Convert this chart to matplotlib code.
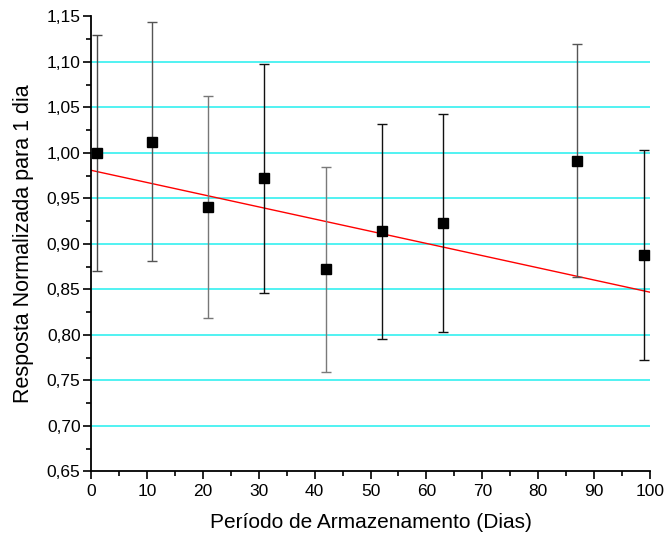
import matplotlib
matplotlib.use("Agg")
import matplotlib.pyplot as plt
from matplotlib.ticker import MultipleLocator, FuncFormatter
import numpy as np

plt.rcParams['font.family'] = ['Liberation Sans', 'DejaVu Sans']

# Data
dias = [1, 11, 21, 31, 42, 52, 63, 87, 99]
resposta = [1.000, 1.012, 0.941, 0.972, 0.872, 0.914, 0.923, 0.991, 0.888]
erro_sup = [1.130, 1.144, 1.063, 1.098, 0.985, 1.032, 1.043, 1.120, 1.003]
erro_inf = [0.870, 0.881, 0.819, 0.846, 0.759, 0.796, 0.803, 0.864, 0.773]
cores_barra = ['#4a4a4a', '#555555', '#777777', '#111111', '#7a7a7a',
               '#111111', '#111111', '#555555', '#111111']

# Linear fit drawn in the chart (intercept, slope)
ajuste_a = 0.981
ajuste_b = -0.00134
ajuste_x = [0, 100]

fig = plt.figure(figsize=(6.64, 5.35), dpi=100)
ax = fig.add_axes([0.137, 0.1187, 0.842, 0.8505])

# grid lines
for g in [0.70, 0.75, 0.80, 0.85, 0.90, 0.95, 1.00, 1.05, 1.10]:
    ax.axhline(g, color='#33f0f0', lw=1.2, zorder=1)

yerr_low = [r - l for r, l in zip(resposta, erro_inf)]
yerr_high = [h - r for r, h in zip(resposta, erro_sup)]
for i in range(len(dias)):
    ax.errorbar([dias[i]], [resposta[i]],
                yerr=[[yerr_low[i]], [yerr_high[i]]],
                fmt='none', ecolor=cores_barra[i], elinewidth=1.0,
                capsize=3.5, capthick=1.0, zorder=3)
ax.plot(dias, resposta, 's', color='black', markersize=7, zorder=4, linestyle='none')

xf = np.array(ajuste_x, dtype=float)
ax.plot(xf, ajuste_a + ajuste_b * xf, color='red', lw=1.0, zorder=2)

ax.set_xlim(0, 100)
ax.set_ylim(0.65, 1.15)
ax.xaxis.set_major_locator(MultipleLocator(10))
ax.xaxis.set_minor_locator(MultipleLocator(5))
ax.yaxis.set_major_locator(MultipleLocator(0.05))
ax.yaxis.set_minor_locator(MultipleLocator(0.025))
ax.yaxis.set_major_formatter(FuncFormatter(lambda v, p: f"{v:.2f}".replace('.', ',')))

for s in ['top', 'right']:
    ax.spines[s].set_visible(False)
for s in ['left', 'bottom']:
    ax.spines[s].set_linewidth(1.3)
ax.tick_params(which='major', direction='out', length=6, width=1.2, labelsize=12.5)
ax.tick_params(axis='y', which='major', pad=1.5)
ax.tick_params(axis='x', which='major', pad=3)
ax.tick_params(which='minor', direction='out', length=3.5, width=1.2)

ax.set_xlabel('Período de Armazenamento (Dias)', fontsize=15, labelpad=10)
ax.set_ylabel('Resposta Normalizada para 1 dia', fontsize=15.5, labelpad=9)

fig.savefig('out.png', dpi=100)
